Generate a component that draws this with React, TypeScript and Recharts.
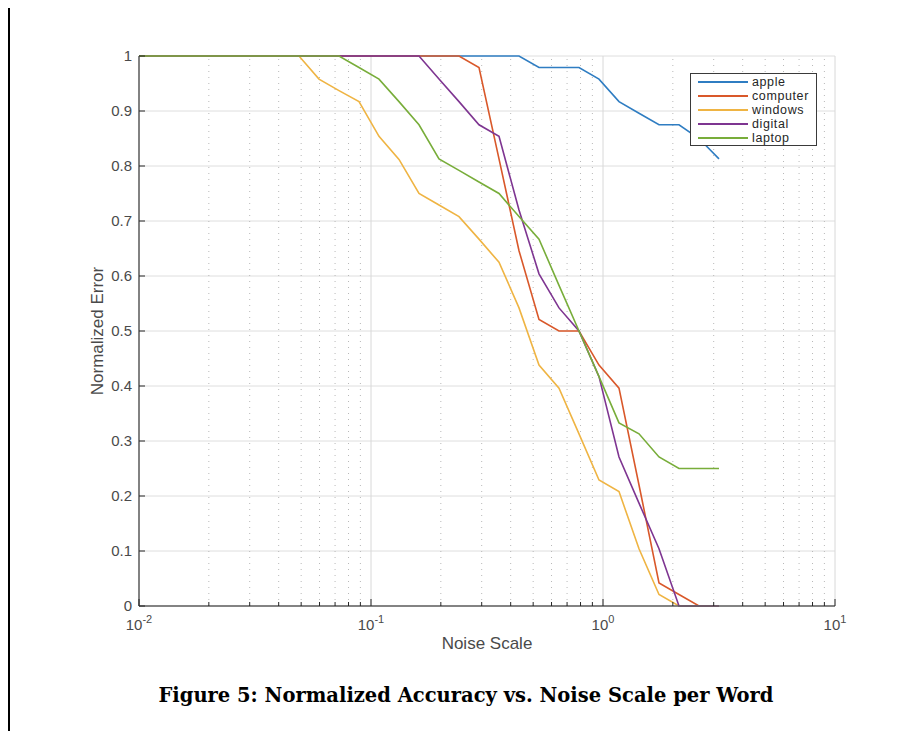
import React from 'react';
import { LineChart, Line, XAxis, YAxis, CartesianGrid, ReferenceLine, Legend, Label } from 'recharts';

// Noise scale sample points (log-spaced, 0.01 .. 10^0.5)
const noiseScale = [
  0.01, 0.012195, 0.014874, 0.018139, 0.022122, 0.02698, 0.032903, 0.040128, 0.048939, 0.059685,
  0.07279, 0.088772, 0.108264, 0.132035, 0.161026, 0.196383, 0.239503, 0.29209, 0.356225, 0.434441,
  0.529832, 0.646167, 0.788046, 0.961078, 1.172102, 1.429461, 1.743329, 2.126112, 2.592943, 3.162278,
];

const apple = [
  1, 1, 1, 1, 1, 1, 1, 1, 1, 1,
  1, 1, 1, 1, 1, 1, 1, 1, 1, 1,
  0.979, 0.979, 0.979, 0.958, 0.917, 0.896, 0.875, 0.875, 0.85, 0.813,
];
const computer = [
  1, 1, 1, 1, 1, 1, 1, 1, 1, 1,
  1, 1, 1, 1, 1, 1, 1, 0.979, 0.813, 0.646,
  0.521, 0.5, 0.5, 0.438, 0.396, 0.22, 0.042, 0.021, 0, 0,
];
const windows = [
  1, 1, 1, 1, 1, 1, 1, 1, 1, 0.958,
  0.937, 0.917, 0.854, 0.812, 0.75, 0.729, 0.708, 0.667, 0.625, 0.542,
  0.438, 0.396, 0.313, 0.229, 0.208, 0.104, 0.021, 0, 0, 0,
];
const digital = [
  1, 1, 1, 1, 1, 1, 1, 1, 1, 1,
  1, 1, 1, 1, 1, 0.958, 0.917, 0.875, 0.854, 0.72,
  0.604, 0.542, 0.5, 0.417, 0.271, 0.187, 0.104, 0, 0, 0,
];
const laptop = [
  1, 1, 1, 1, 1, 1, 1, 1, 1, 1,
  1, 0.979, 0.958, 0.917, 0.875, 0.813, 0.792, 0.771, 0.75, 0.708,
  0.667, 0.583, 0.5, 0.417, 0.333, 0.313, 0.271, 0.25, 0.25, 0.25,
];

const xTicks = [
  0.01, 0.02, 0.03, 0.04, 0.05, 0.06, 0.07, 0.08, 0.09,
  0.1, 0.2, 0.3, 0.4, 0.5, 0.6, 0.7, 0.8, 0.9,
  1, 2, 3, 4, 5, 6, 7, 8, 9, 10,
];
const yTicks = [0, 0.1, 0.2, 0.3, 0.4, 0.5, 0.6, 0.7, 0.8, 0.9, 1];

const seriesNames = ['apple', 'computer', 'windows', 'digital', 'laptop'];
const seriesColors = ['#2f7dc2', '#d9582a', '#efb443', '#7e3591', '#78ad3a'];
const seriesValues = [apple, computer, windows, digital, laptop];

const data = noiseScale.map((x, i) => {
  const row: Record<string, number> = { x };
  seriesNames.forEach((n, s) => {
    row[n] = seriesValues[s][i];
  });
  return row;
});

const FONT = '"Liberation Sans", Arial, Helvetica, sans-serif';
const TICK_COLOR = '#262626';
const LABEL_COLOR = '#4a4a4a';

const isMajor = (v: number) => Math.abs(Math.log10(v) - Math.round(Math.log10(v))) < 1e-6;

const BottomTick = (props: any) => {
  const { x, y, payload } = props;
  const v = payload.value;
  const major = isMajor(v);
  return (
    <g>
      <line x1={x} y1={y} x2={x} y2={y - (major ? 7 : 4)} stroke={TICK_COLOR} strokeWidth={1} />
      {major && (
        <text x={x} y={y + 24} textAnchor="middle" fill={LABEL_COLOR} fontSize={15} fontFamily={FONT}>
          <tspan>10</tspan>
          <tspan dy={-7} fontSize={11}>{String(Math.round(Math.log10(v)))}</tspan>
        </text>
      )}
    </g>
  );
};

const TopTick = (props: any) => {
  const { x, y, payload } = props;
  const major = isMajor(payload.value);
  return <line x1={x} y1={y} x2={x} y2={y + (major ? 7 : 4)} stroke={TICK_COLOR} strokeWidth={1} />;
};

const LeftTick = (props: any) => {
  const { x, y, payload } = props;
  return (
    <g>
      <line x1={x} y1={y} x2={x + 6} y2={y} stroke={TICK_COLOR} strokeWidth={1} />
      <text x={x - 7} y={y + 5} textAnchor="end" fill={LABEL_COLOR} fontSize={15} fontFamily={FONT}>
        {String(payload.value)}
      </text>
    </g>
  );
};

const RightTick = (props: any) => {
  const { x, y } = props;
  return <line x1={x} y1={y} x2={x - 6} y2={y} stroke={TICK_COLOR} strokeWidth={1} />;
};

const XLabel = (props: any) => {
  const vb = props.viewBox || { x: 131, y: 598, width: 696, height: 31 };
  return (
    <text x={vb.x + vb.width / 2} y={vb.y + 43} textAnchor="middle" fill={LABEL_COLOR} fontSize={17} fontFamily={FONT}>
      Noise Scale
    </text>
  );
};

const YLabel = (props: any) => {
  const vb = props.viewBox || { x: 81, y: 48, width: 50, height: 550 };
  const cx = vb.x + 8;
  const cy = vb.y + vb.height / 2;
  return (
    <text
      x={cx}
      y={cy}
      transform={`rotate(-90, ${cx}, ${cy})`}
      textAnchor="middle"
      dominantBaseline="central"
      fill={LABEL_COLOR}
      fontSize={17}
      fontFamily={FONT}
    >
      Normalized Error
    </text>
  );
};

const LegendBox = (props: any) => {
  const payload = [...(props.payload || [])].sort(
    (a: any, b: any) => seriesNames.indexOf(a.value) - seriesNames.indexOf(b.value)
  );
  return (
    <div
      style={{
        border: '1.5px solid #3a3a3a',
        background: '#fff',
        width: 125,
        padding: '1px 0 0 0',
        fontFamily: FONT,
        fontSize: 12.5,
        letterSpacing: 0.6,
        color: '#262626',
        boxSizing: 'content-box',
      }}
    >
      {payload.map((e: any) => (
        <div key={e.value} style={{ display: 'flex', alignItems: 'center', height: 14 }}>
          <div style={{ width: 50, height: 2, background: e.color, marginLeft: 7, flex: 'none' }} />
          <span style={{ marginLeft: 4, lineHeight: '14px' }}>{e.value}</span>
        </div>
      ))}
    </div>
  );
};

export default function App() {
  return (
    <div style={{ position: 'relative', width: 904, height: 723, overflow: 'visible' }}>
      {/* page frame fragments */}
      <div style={{ position: 'absolute', left: 0, top: -2, width: 2, height: 725, background: '#000' }} />
      <div style={{ position: 'absolute', left: 0, top: -2, width: 14, height: 1.5, background: '#000' }} />

      <LineChart
        width={900}
        height={670}
        data={data}
        margin={{ top: 48, right: 73, bottom: 41, left: 81 }}
      >
        <CartesianGrid vertical={false} stroke="#dedede" strokeWidth={1} />
        {xTicks.map((v) =>
          isMajor(v) ? (
            <ReferenceLine key={'g' + v} x={v} stroke="#d8d8d8" strokeWidth={1} />
          ) : (
            <ReferenceLine key={'g' + v} x={v} stroke="#b8b8b8" strokeWidth={1} strokeDasharray="1 5" />
          )
        )}
        <XAxis
          dataKey="x"
          type="number"
          scale="log"
          domain={[0.01, 10]}
          allowDataOverflow
          ticks={xTicks}
          interval={0}
          height={31}
          tickSize={0}
          tickMargin={0}
          tickLine={false}
          tick={<BottomTick />}
          axisLine={{ stroke: '#5f5f5f', strokeWidth: 1.5 }}
        >
          <Label content={<XLabel />} />
        </XAxis>
        <XAxis
          xAxisId="top"
          orientation="top"
          dataKey="x"
          type="number"
          scale="log"
          domain={[0.01, 10]}
          allowDataOverflow
          ticks={xTicks}
          interval={0}
          height={0}
          tickSize={0}
          tickMargin={0}
          tickLine={false}
          tick={<TopTick />}
          axisLine={{ stroke: '#5f5f5f', strokeWidth: 1.5 }}
        />
        <YAxis
          type="number"
          domain={[0, 1]}
          ticks={yTicks}
          interval={0}
          width={50}
          tickSize={0}
          tickMargin={0}
          tickLine={false}
          tick={<LeftTick />}
          axisLine={{ stroke: '#5f5f5f', strokeWidth: 1.5 }}
        >
          <Label content={<YLabel />} />
        </YAxis>
        <YAxis
          yAxisId="right"
          orientation="right"
          type="number"
          domain={[0, 1]}
          ticks={yTicks}
          interval={0}
          width={0}
          tickSize={0}
          tickMargin={0}
          tickLine={false}
          tick={<RightTick />}
          axisLine={{ stroke: '#5f5f5f', strokeWidth: 1.5 }}
        />
        {seriesNames.map((n, s) => (
          <Line
            key={n}
            type="linear"
            dataKey={n}
            name={n}
            stroke={seriesColors[s]}
            strokeWidth={1.6}
            dot={false}
            activeDot={false}
            isAnimationActive={false}
          />
        ))}
        <Legend
          layout="vertical"
          align="center"
          verticalAlign="middle"
          content={<LegendBox />}
          wrapperStyle={{ left: 682, top: 65, width: 128, height: 'auto' }}
        />
      </LineChart>

      <div
        style={{
          position: 'absolute',
          left: 458,
          top: 676,
          transform: 'translateX(-50%)',
          whiteSpace: 'nowrap',
          fontFamily: '"DejaVu Serif", serif',
          fontWeight: 'bold',
          fontSize: 19.5,
          color: '#000',
        }}
      >
        Figure 5: Normalized Accuracy vs. Noise Scale per Word
      </div>
    </div>
  );
}
